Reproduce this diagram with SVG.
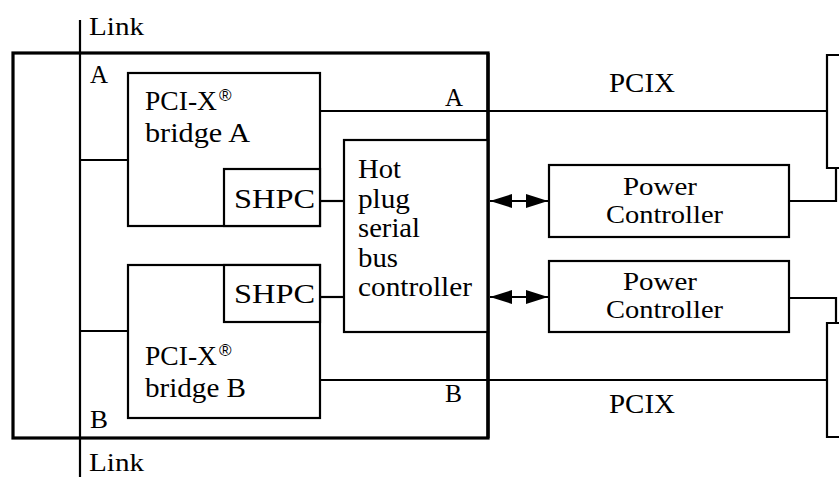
<svg xmlns="http://www.w3.org/2000/svg" width="839" height="477" viewBox="0 0 839 477">
<style>
text{font-family:'Liberation Serif','Times New Roman',Times,serif;font-size:28px;fill:#000}
.sm{font-size:26px}
.pc{font-size:26px}
.reg{font-family:'Liberation Sans',Arial,sans-serif;font-size:17px}
.box{fill:#fff;stroke:#000;stroke-width:2.2}
.thick{fill:none;stroke:#000;stroke-width:3.2}
.ln{fill:none;stroke:#000;stroke-width:2.2}
</style>
<defs>
<marker id="ah" viewBox="0 0 22 14" refX="22" refY="7" markerWidth="22" markerHeight="14" markerUnits="userSpaceOnUse" orient="auto-start-reverse">
<path d="M0,0 L22,7 L0,14 z" fill="#000"/>
</marker>
</defs>
<rect x="0" y="0" width="839" height="477" fill="#fff"/>
<g id="outer">
<rect class="thick" x="13" y="53" width="475" height="385"/>
</g>
<g id="connectors">
<line class="ln" x1="80" y1="20" x2="80" y2="477"/>
<line class="ln" x1="80" y1="160" x2="128" y2="160"/>
<line class="ln" x1="80" y1="331" x2="128" y2="331"/>
<line class="ln" x1="320" y1="111" x2="827" y2="111"/>
<line class="ln" x1="320" y1="380" x2="827" y2="380"/>
<line class="ln" x1="320" y1="201" x2="344" y2="201"/>
<line class="ln" x1="320" y1="297" x2="344" y2="297"/>
<line class="ln" x1="490" y1="201" x2="548" y2="201" marker-start="url(#ah)" marker-end="url(#ah)"/>
<line class="ln" x1="490" y1="297" x2="548" y2="297" marker-start="url(#ah)" marker-end="url(#ah)"/>
<polyline class="ln" points="789,201 836,201 836,168"/>
<polyline class="ln" points="789,298 836,298 836,323"/>
</g>
<g id="labels">
<text class="sm" x="89" y="35" textLength="55" lengthAdjust="spacingAndGlyphs">Link</text>
<text class="sm" x="89" y="471" textLength="55" lengthAdjust="spacingAndGlyphs">Link</text>
<text class="sm" x="90" y="83" textLength="18" lengthAdjust="spacingAndGlyphs">A</text>
<text class="sm" x="90" y="428" textLength="18" lengthAdjust="spacingAndGlyphs">B</text>
<text class="sm" x="445" y="106" textLength="18" lengthAdjust="spacingAndGlyphs">A</text>
<text class="sm" x="445" y="402" textLength="17" lengthAdjust="spacingAndGlyphs">B</text>
<text x="609" y="92" textLength="66" lengthAdjust="spacingAndGlyphs">PCIX</text>
<text x="609" y="413" textLength="66" lengthAdjust="spacingAndGlyphs">PCIX</text>
</g>
<g id="bridgeA">
<rect class="box" x="128" y="73" width="192" height="153"/>
<text x="145" y="110"><tspan textLength="72" lengthAdjust="spacingAndGlyphs">PCI-X</tspan><tspan class="reg" x="219" y="101">®</tspan></text>
<text x="145" y="142" textLength="105" lengthAdjust="spacingAndGlyphs">bridge A</text>
</g>
<g id="shpcA">
<rect class="box" x="224" y="169" width="96" height="57"/>
<text x="234" y="208" textLength="81" lengthAdjust="spacingAndGlyphs">SHPC</text>
</g>
<g id="bridgeB">
<rect class="box" x="128" y="265" width="192" height="153"/>
<text x="145" y="365"><tspan textLength="72" lengthAdjust="spacingAndGlyphs">PCI-X</tspan><tspan class="reg" x="219" y="356">®</tspan></text>
<text x="145" y="397" textLength="101" lengthAdjust="spacingAndGlyphs">bridge B</text>
</g>
<g id="shpcB">
<rect class="box" x="224" y="265" width="96" height="57"/>
<text x="234" y="303" textLength="81" lengthAdjust="spacingAndGlyphs">SHPC</text>
</g>
<g id="hotplug">
<rect class="box" x="344" y="140" width="144" height="192"/>
<line class="thick" x1="488" y1="53" x2="488" y2="438"/>
<text x="358" y="178" textLength="43" lengthAdjust="spacingAndGlyphs">Hot</text>
<text x="358" y="207.5" textLength="52" lengthAdjust="spacingAndGlyphs">plug</text>
<text x="358" y="237" textLength="62" lengthAdjust="spacingAndGlyphs">serial</text>
<text x="358" y="266.5" textLength="40" lengthAdjust="spacingAndGlyphs">bus</text>
<text x="358" y="296" textLength="114" lengthAdjust="spacingAndGlyphs">controller</text>
</g>
<g id="power1">
<rect class="box" x="549" y="165" width="240" height="72"/>
<text class="pc" x="623" y="195" textLength="74" lengthAdjust="spacingAndGlyphs">Power</text>
<text class="pc" x="606" y="223" textLength="117" lengthAdjust="spacingAndGlyphs">Controller</text>
</g>
<g id="power2">
<rect class="box" x="549" y="261" width="240" height="71"/>
<text class="pc" x="623" y="290" textLength="74" lengthAdjust="spacingAndGlyphs">Power</text>
<text class="pc" x="606" y="318" textLength="117" lengthAdjust="spacingAndGlyphs">Controller</text>
</g>
<g id="slotA">
<path class="ln" d="M845,55 L827,55 L827,168 L845,168"/>
</g>
<g id="slotB">
<path class="ln" d="M845,323 L827,323 L827,437 L845,437"/>
</g>
</svg>
